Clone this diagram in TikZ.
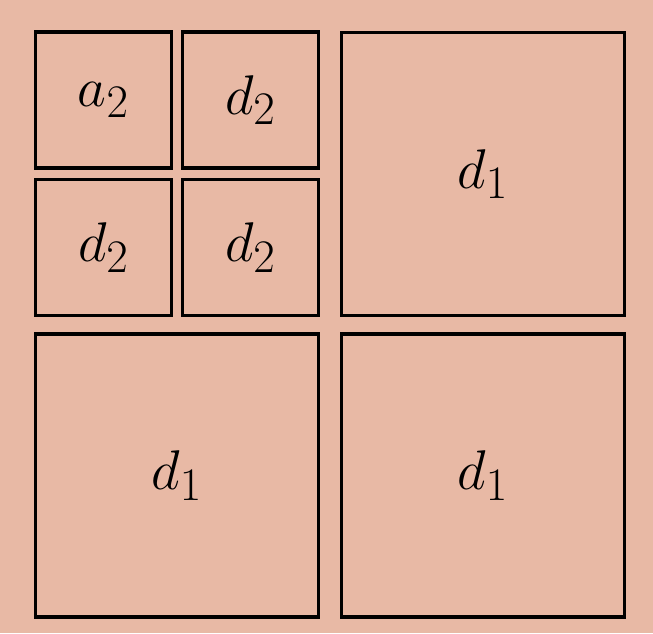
\documentclass[tikz,border=0pt]{standalone}
\usepackage{xcolor}
\usepackage{tikz}
\definecolor{salmonbg}{HTML}{E8B9A5}
\newcommand{\sqlabel}[1]{\scalebox{1.28}{$#1$}}
\tikzset{
  bigsq/.style={rectangle,draw=black,line width=2.2pt,minimum width=5.66cm,minimum height=5.66cm,inner sep=0pt,font=\Huge},
  smallsq/.style={rectangle,draw=black,line width=2.2pt,minimum width=2.72cm,minimum height=2.72cm,inner sep=0pt,font=\Huge}
}

\begin{document}
\begin{tikzpicture}[x=0.02cm,y=-0.02cm]
  \fill[salmonbg] (0,0) rectangle (653,633);
  \useasboundingbox (0,0) rectangle (653,633);

  \node[smallsq] (atl) at (103.5,100) {\sqlabel{a_2}};
  \node[smallsq] (dtr) at (250.5,100) {\sqlabel{d_2}};
  \node[smallsq] (dbl) at (103.5,247.5) {\sqlabel{d_2}};
  \node[smallsq] (dbr) at (250.5,247.5) {\sqlabel{d_2}};

  \node[bigsq] (topright) at (483,174) {\sqlabel{d_1}};
  \node[bigsq] (botleft) at (177,475.5) {\sqlabel{d_1}};
  \node[bigsq] (botright) at (483,475.5) {\sqlabel{d_1}};
\end{tikzpicture}
\end{document}
